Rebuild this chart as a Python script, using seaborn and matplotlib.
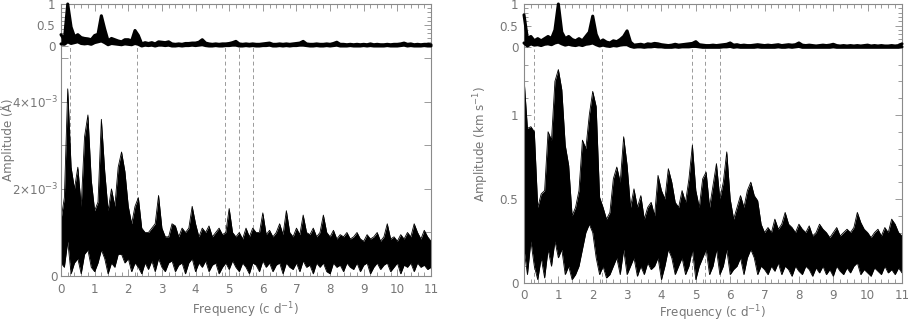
import numpy as np
import pandas as pd
import matplotlib
matplotlib.use("Agg")
import matplotlib.pyplot as plt
import seaborn as sns
from matplotlib.ticker import FixedLocator, MultipleLocator, FuncFormatter

# frequency grid of the read-off envelopes (c/d)
freq = np.round(np.arange(111) * 0.1, 1)

# left panel: equivalent-width periodogram, upper / lower envelope (units of 1e-3 A)
ew_hi = [1.3, 1.8, 4.3, 2.5, 2.0, 2.5, 1.6, 3.2, 3.7, 2.2,
         1.5, 1.7, 3.6, 2.4, 1.5, 2.0, 1.6, 2.5, 2.85, 2.4,
         1.6, 1.2, 1.6, 1.8, 1.1, 1.0, 1.0, 1.1, 1.2, 1.85,
         1.1, 0.9, 0.9, 1.2, 1.15, 0.9, 1.1, 1.0, 1.1, 1.6,
         1.2, 0.9, 1.1, 1.0, 1.15, 0.9, 1.0, 1.1, 0.95, 1.0,
         1.55, 1.0, 0.9, 1.0, 0.85, 1.1, 0.9, 1.1, 1.0, 1.0,
         1.45, 0.95, 1.05, 0.9, 1.0, 1.2, 0.95, 1.5, 1.0, 0.9,
         1.1, 0.95, 1.4, 1.0, 0.95, 1.1, 0.9, 1.0, 1.4, 1.0,
         0.9, 1.05, 0.85, 0.95, 0.9, 1.0, 0.85, 0.9, 1.0, 0.85,
         0.8, 0.95, 0.85, 0.9, 1.0, 0.8, 0.9, 1.2, 0.85, 0.9,
         0.8, 0.95, 0.85, 1.0, 0.9, 1.2, 1.0, 0.85, 1.05, 0.9, 0.8]
ew_lo = [0.3, 0.2, 0.8, 0.05, 0.3, 0.4, 0.05, 0.5, 0.6, 0.2,
         0.1, 0.3, 0.6, 0.4, 0.05, 0.3, 0.2, 0.5, 0.5, 0.3,
         0.4, 0.1, 0.3, 0.2, 0.05, 0.3, 0.15, 0.35, 0.1, 0.4,
         0.2, 0.1, 0.3, 0.35, 0.1, 0.25, 0.3, 0.05, 0.3, 0.4,
         0.1, 0.3, 0.2, 0.35, 0.1, 0.25, 0.3, 0.05, 0.2, 0.3,
         0.15, 0.35, 0.2, 0.1, 0.3, 0.2, 0.05, 0.3, 0.25, 0.1,
         0.35, 0.2, 0.3, 0.1, 0.25, 0.3, 0.05, 0.3, 0.2, 0.15,
         0.3, 0.1, 0.35, 0.2, 0.25, 0.05, 0.3, 0.2, 0.3, 0.1,
         0.05, 0.3, 0.2, 0.25, 0.1, 0.3, 0.2, 0.15, 0.3, 0.1,
         0.25, 0.3, 0.05, 0.2, 0.3, 0.15, 0.25, 0.3, 0.1, 0.2,
         0.3, 0.05, 0.25, 0.2, 0.3, 0.1, 0.3, 0.2, 0.25, 0.15, 0.2]

# right panel: radial-velocity periodogram envelopes (km/s)
rv_hi = [1.22, 0.92, 0.93, 0.9, 0.45, 0.53, 0.55, 0.9, 0.85, 1.2,
         1.27, 1.15, 0.82, 0.7, 0.4, 0.45, 0.55, 0.85, 0.8, 1.0,
         1.14, 1.05, 0.51, 0.45, 0.38, 0.42, 0.62, 0.69, 0.6, 0.87,
         0.7, 0.45, 0.56, 0.45, 0.52, 0.38, 0.45, 0.48, 0.4, 0.64,
         0.55, 0.5, 0.68, 0.6, 0.48, 0.45, 0.55, 0.48, 0.62, 0.82,
         0.55, 0.45, 0.62, 0.66, 0.45, 0.58, 0.71, 0.5, 0.6, 0.78,
         0.5, 0.38, 0.45, 0.52, 0.45, 0.55, 0.6, 0.52, 0.49, 0.35,
         0.3, 0.33, 0.3, 0.38, 0.32, 0.35, 0.42, 0.35, 0.33, 0.3,
         0.35, 0.32, 0.3, 0.34, 0.28, 0.3, 0.35, 0.32, 0.3, 0.27,
         0.3, 0.33, 0.28, 0.3, 0.32, 0.3, 0.33, 0.42, 0.36, 0.32,
         0.3, 0.27, 0.3, 0.32, 0.28, 0.33, 0.3, 0.38, 0.35, 0.3, 0.28]
rv_lo = [0.2, 0.05, 0.25, 0.1, 0.02, 0.15, 0.03, 0.2, 0.1, 0.25,
         0.15, 0.2, 0.05, 0.1, 0.02, 0.05, 0.1, 0.2, 0.3, 0.35,
         0.3, 0.15, 0.05, 0.1, 0.03, 0.05, 0.1, 0.15, 0.05, 0.2,
         0.05, 0.1, 0.15, 0.04, 0.1, 0.05, 0.12, 0.08, 0.1, 0.15,
         0.02, 0.1, 0.2, 0.15, 0.05, 0.1, 0.15, 0.05, 0.1, 0.2,
         0.02, 0.1, 0.15, 0.2, 0.05, 0.1, 0.2, 0.05, 0.1, 0.2,
         0.05, 0.08, 0.1, 0.15, 0.05, 0.15, 0.2, 0.15, 0.05, 0.1,
         0.08, 0.05, 0.1, 0.07, 0.12, 0.05, 0.1, 0.08, 0.04, 0.1,
         0.07, 0.05, 0.1, 0.08, 0.04, 0.09, 0.06, 0.1, 0.05, 0.08,
         0.04, 0.1, 0.07, 0.05, 0.09, 0.06, 0.1, 0.12, 0.05, 0.08,
         0.06, 0.04, 0.09, 0.07, 0.05, 0.1, 0.06, 0.08, 0.05, 0.09, 0.06]

# spectral windows (normalised), upper envelope and lower envelope
win_ew_hi = [0.27, 0.15, 1.0, 0.45, 0.22, 0.27, 0.2, 0.18, 0.17, 0.15,
             0.25, 0.28, 0.72, 0.4, 0.12, 0.18, 0.15, 0.12, 0.1, 0.15,
             0.15, 0.12, 0.37, 0.25, 0.05, 0.08, 0.06, 0.08, 0.05, 0.1,
             0.09, 0.08, 0.1, 0.05, 0.04, 0.05, 0.04, 0.06, 0.06, 0.07,
             0.07, 0.09, 0.15, 0.07, 0.05, 0.04, 0.05, 0.04, 0.05, 0.05,
             0.06, 0.08, 0.11, 0.05, 0.04, 0.05, 0.04, 0.05, 0.04, 0.04,
             0.05, 0.06, 0.07, 0.04, 0.04, 0.05, 0.04, 0.05, 0.04, 0.05,
             0.06, 0.07, 0.11, 0.05, 0.04, 0.04, 0.05, 0.04, 0.04, 0.05,
             0.04, 0.06, 0.09, 0.04, 0.04, 0.03, 0.04, 0.03, 0.04, 0.03,
             0.04, 0.03, 0.05, 0.03, 0.04, 0.03, 0.03, 0.04, 0.03, 0.04,
             0.04, 0.05, 0.07, 0.04, 0.05, 0.03, 0.04, 0.03, 0.04, 0.04, 0.03]
win_ew_lo = [0.05, 0.04, 0.1, 0.06, 0.08, 0.1, 0.06, 0.05, 0.06, 0.04,
             0.08, 0.1, 0.12, 0.08, 0.03, 0.06, 0.05, 0.04, 0.03, 0.05,
             0.04, 0.03, 0.06, 0.04, 0.0, 0.02, 0.01, 0.02, 0.0, 0.02,
             0.02, 0.01, 0.02, 0.0, 0.0, 0.01, 0.0, 0.01, 0.01, 0.02,
             0.01, 0.02, 0.03, 0.01, 0.0, 0.0, 0.01, 0.0, 0.0, 0.01,
             0.01, 0.02, 0.02, 0.0, 0.0, 0.01, 0.0, 0.01, 0.0, 0.0,
             0.01, 0.01, 0.02, 0.0, 0.0, 0.01, 0.0, 0.01, 0.0, 0.01,
             0.01, 0.02, 0.02, 0.01, 0.0, 0.0, 0.01, 0.0, 0.0, 0.01,
             0.0, 0.01, 0.02, 0.0, 0.0, 0.0, 0.01, 0.0, 0.0, 0.0,
             0.01, 0.0, 0.01, 0.0, 0.0, 0.0, 0.0, 0.01, 0.0, 0.0,
             0.0, 0.01, 0.02, 0.0, 0.01, 0.0, 0.0, 0.0, 0.01, 0.0, 0.0]
win_rv_hi = [0.75, 0.2, 0.25, 0.15, 0.2, 0.15, 0.2, 0.25, 0.2, 0.4,
             1.0, 0.35, 0.2, 0.25, 0.18, 0.15, 0.2, 0.15, 0.25, 0.35,
             0.72, 0.3, 0.12, 0.17, 0.12, 0.1, 0.15, 0.13, 0.18, 0.25,
             0.38, 0.12, 0.05, 0.06, 0.07, 0.05, 0.08, 0.07, 0.09, 0.08,
             0.06, 0.05, 0.04, 0.05, 0.07, 0.05, 0.06, 0.07, 0.08, 0.09,
             0.13, 0.06, 0.05, 0.04, 0.04, 0.05, 0.04, 0.05, 0.06, 0.07,
             0.1, 0.05, 0.06, 0.04, 0.05, 0.04, 0.04, 0.05, 0.06, 0.05,
             0.04, 0.05, 0.04, 0.05, 0.06, 0.04, 0.05, 0.06, 0.05, 0.06,
             0.1, 0.05, 0.04, 0.05, 0.04, 0.03, 0.04, 0.05, 0.04, 0.05,
             0.07, 0.04, 0.03, 0.04, 0.03, 0.04, 0.03, 0.04, 0.03, 0.04,
             0.05, 0.03, 0.04, 0.03, 0.04, 0.03, 0.03, 0.04, 0.03, 0.04, 0.08]
win_rv_lo = [0.1, 0.03, 0.08, 0.05, 0.06, 0.04, 0.07, 0.08, 0.06, 0.1,
             0.12, 0.08, 0.05, 0.07, 0.05, 0.04, 0.06, 0.04, 0.07, 0.08,
             0.1, 0.06, 0.03, 0.05, 0.03, 0.02, 0.04, 0.03, 0.05, 0.06,
             0.06, 0.02, 0.0, 0.01, 0.01, 0.0, 0.01, 0.01, 0.02, 0.01,
             0.01, 0.0, 0.0, 0.0, 0.01, 0.0, 0.01, 0.01, 0.01, 0.02,
             0.02, 0.01, 0.0, 0.0, 0.0, 0.0, 0.0, 0.0, 0.01, 0.01,
             0.02, 0.0, 0.01, 0.0, 0.0, 0.0, 0.0, 0.0, 0.01, 0.0,
             0.0, 0.0, 0.0, 0.0, 0.01, 0.0, 0.0, 0.01, 0.0, 0.01,
             0.02, 0.0, 0.0, 0.0, 0.0, 0.0, 0.0, 0.0, 0.0, 0.0,
             0.01, 0.0, 0.0, 0.0, 0.0, 0.0, 0.0, 0.0, 0.0, 0.0,
             0.0, 0.0, 0.0, 0.0, 0.0, 0.0, 0.0, 0.0, 0.0, 0.0, 0.01]

# marked frequencies (dashed lines)
marked_freq = [0.28, 2.27, 4.88, 5.28, 5.70]

GREY = "#777777"
FRAME = "#8a8a8a"
FS = 8.6

sns.set_theme(style="ticks")
plt.rcParams["font.family"] = ["DejaVu Sans"]
plt.rcParams["mathtext.fontset"] = "dejavusans"
plt.rcParams["axes.edgecolor"] = FRAME
plt.rcParams["axes.linewidth"] = 0.8
plt.rcParams["xtick.color"] = FRAME
plt.rcParams["ytick.color"] = FRAME
plt.rcParams["xtick.labelcolor"] = GREY
plt.rcParams["ytick.labelcolor"] = GREY


def draw_band(ax, hi, lo, lw=0.6):
    df = pd.DataFrame({"freq": np.concatenate([freq, freq]),
                       "amp": np.concatenate([hi, lo]),
                       "edge": ["hi"] * len(freq) + ["lo"] * len(freq)})
    ax.fill_between(freq, lo, hi, color="black", lw=0)
    sns.lineplot(data=df, x="freq", y="amp", units="edge", estimator=None,
                 color="black", lw=lw, ax=ax, legend=False)


def setup_panel(ax, ymax, win_hi, win_lo, inset_bottom, xpad, labelpad):
    ax.set_xlim(0, 11)
    ax.set_ylim(0, ymax)
    ax.xaxis.set_major_locator(MultipleLocator(1))
    ax.xaxis.set_minor_locator(MultipleLocator(0.2))
    ax.tick_params(axis="both", which="both", direction="in",
                   top=True, right=True, labelsize=FS, width=0.6, pad=4)
    ax.tick_params(axis="x", which="both", pad=xpad)
    ax.tick_params(which="major", length=5)
    ax.tick_params(which="minor", length=3)
    ax.set_xlabel("Frequency (c d$^{-1}$)", fontsize=FS, color=GREY,
                  labelpad=labelpad)
    for f in marked_freq:
        ax.axvline(f, ymin=0, ymax=inset_bottom - 0.005, color="#9a9a9a",
                   lw=0.7, ls=(0, (4, 3)), zorder=0)

    ins = ax.inset_axes([0, inset_bottom, 1, 1 - inset_bottom])
    ins.patch.set_alpha(0)
    for s in ins.spines.values():
        s.set_visible(False)
    ins.set_xlim(0, 11)
    ins.set_ylim(0, 1)
    ins.set_xticks([])
    ins.yaxis.set_major_locator(FixedLocator([0, 0.5, 1]))
    ins.yaxis.set_minor_locator(MultipleLocator(0.1))
    ins.tick_params(axis="y", which="both", direction="in", left=True, right=True,
                    labelsize=FS, width=0.6, pad=4)
    ins.tick_params(which="major", length=5)
    ins.tick_params(which="minor", length=3)
    ins.yaxis.set_major_formatter(FuncFormatter(lambda v, p: "%g" % v))
    draw_band(ins, win_hi, win_lo, lw=2.2)
    ins.set_xlabel("")
    ins.set_ylabel("")
    for c in ins.collections + ins.lines:
        c.set_clip_on(False)
    return ins


fig = plt.figure(figsize=(9.08, 3.26), dpi=100)
ax1 = fig.add_axes([61 / 908, 50 / 326, 370 / 908, 272 / 326])
ax2 = fig.add_axes([524 / 908, 43 / 326, 378 / 908, 279 / 326])

# left: equivalent width
draw_band(ax1, np.array(ew_hi) * 1e-3, np.array(ew_lo) * 1e-3)
setup_panel(ax1, 6.25e-3, win_ew_hi, win_ew_lo, 230 / 272, 5, 3)
ax1.yaxis.set_major_locator(FixedLocator([0, 2e-3, 4e-3]))
ax1.yaxis.set_minor_locator(FixedLocator([1e-3, 3e-3, 5e-3]))
ax1.yaxis.set_major_formatter(FuncFormatter(
    lambda v, p: "0" if v == 0 else r"%d$\times$10$^{-3}$" % round(v * 1e3)))
ax1.tick_params(axis="y", which="minor", length=5)
ax1.tick_params(axis="y", which="both", pad=2)
ax1.set_ylabel("Amplitude (Å)", fontsize=FS, color=GREY)
ax1.yaxis.set_label_coords(-0.125, 0.5)

# right: radial velocity
draw_band(ax2, np.array(rv_hi), np.array(rv_lo))
setup_panel(ax2, 1.66, win_rv_hi, win_rv_lo, 235.7 / 279, 4, 1)
ax2.yaxis.set_major_locator(FixedLocator([0, 0.5, 1]))
ax2.yaxis.set_minor_locator(FixedLocator([0.1, 0.2, 0.3, 0.4, 0.6, 0.7, 0.8, 0.9,
                                          1.1, 1.2, 1.3]))
ax2.yaxis.set_major_formatter(FuncFormatter(lambda v, p: "%g" % v))
ax2.set_ylabel("Amplitude (km s$^{-1}$)", fontsize=FS, color=GREY)
ax2.yaxis.set_label_coords(-0.088, 0.5)

fig.savefig("out.png", dpi=100)
